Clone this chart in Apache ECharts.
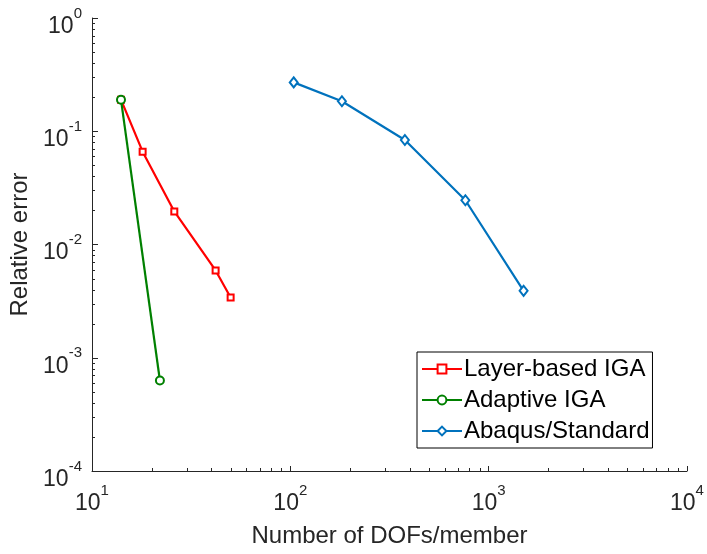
<!DOCTYPE html>
<html>
<head>
<meta charset="utf-8">
<script src="https://cdn.jsdelivr.net/npm/echarts@6/dist/echarts.min.js"></script>
<style>
  html, body { margin: 0; padding: 0; background: #fff; }
  #chart { width: 707px; height: 554px; }
</style>
</head>
<body>
<div id="chart"></div>
<script>
// Convergence of relative error versus degrees of freedom per member
const layerDofs = [14, 18, 26, 42, 50];
const layerErr = [0.19, 0.066, 0.0196, 0.0059, 0.0034];

const adaptiveDofs = [14, 22];
const adaptiveErr = [0.19, 0.00063];

const abaqusDofs = [104, 182, 378, 763, 1500];
const abaqusErr = [0.27, 0.184, 0.0837, 0.0246, 0.0039];

const xDecades = [1, 2, 3, 4];      // 10^1 .. 10^4
const yDecades = [-4, -3, -2, -1, 0]; // 10^-4 .. 10^0

const FONT = 'Liberation Sans, Arial, Helvetica, sans-serif';
const AXIS_COLOR = '#262626';

const zip = (xs, ys) => xs.map((x, i) => [x, ys[i]]);

// minor tick positions (2..9 within each decade)
function minorValues(decades) {
  const out = [];
  for (let i = 0; i < decades.length - 1; i++) {
    for (let m = 2; m <= 9; m++) out.push(m * Math.pow(10, decades[i]));
  }
  return out;
}
const xMinor = minorValues(xDecades);
const yMinor = minorValues(yDecades);
const xMin = Math.pow(10, xDecades[0]), xMax = Math.pow(10, xDecades[xDecades.length - 1]);
const yMin = Math.pow(10, yDecades[0]), yMax = Math.pow(10, yDecades[yDecades.length - 1]);

function powLabel(v) {
  const e = Math.round(Math.log10(v));
  return '{b|10}{s|' + e + '}';
}
const richLabel = {
  b: { fontSize: 23, fontFamily: FONT, color: AXIS_COLOR, lineHeight: 32, verticalAlign: 'bottom' },
  s: { fontSize: 15, fontFamily: FONT, color: AXIS_COLOR, lineHeight: 32, verticalAlign: 'top' }
};

const chart = echarts.init(document.getElementById('chart'), null, { renderer: 'canvas' });

const option = {
  backgroundColor: '#fff',
  animation: false,
  grid: { left: 92, top: 18, width: 595, height: 453, containLabel: false },
  xAxis: {
    type: 'log',
    logBase: 10,
    min: xMin,
    max: xMax,
    name: 'Number of DOFs/member',
    nameLocation: 'middle',
    nameGap: 53,
    nameTextStyle: { fontSize: 24, fontFamily: FONT, color: AXIS_COLOR },
    axisLine: { show: true, lineStyle: { color: AXIS_COLOR, width: 1 } },
    axisTick: { show: true, inside: true, length: 5, lineStyle: { color: AXIS_COLOR } },
    axisLabel: { formatter: powLabel, rich: richLabel, margin: 12 },
    splitLine: { show: false }
  },
  yAxis: {
    type: 'log',
    logBase: 10,
    min: yMin,
    max: yMax,
    name: 'Relative error',
    nameLocation: 'middle',
    nameGap: 54,
    nameRotate: 90,
    nameTextStyle: { fontSize: 24, fontFamily: FONT, color: AXIS_COLOR },
    axisLine: { show: true, lineStyle: { color: AXIS_COLOR, width: 1 } },
    axisTick: { show: true, inside: true, length: 6, lineStyle: { color: AXIS_COLOR } },
    axisLabel: { formatter: powLabel, rich: richLabel, margin: 10, padding: [8, 0, 0, 0] },
    splitLine: { show: false }
  },
  legend: {
    data: ['Layer-based IGA', 'Adaptive IGA', 'Abaqus/Standard'],
    orient: 'vertical',
    left: 417,
    top: 352,
    backgroundColor: '#fff',
    borderColor: '#000',
    borderWidth: 1,
    borderRadius: 0,
    padding: [5, 3, 5, 4],
    itemWidth: 40,
    itemHeight: 11,
    itemGap: 7,
    textStyle: { fontSize: 24, fontFamily: FONT, color: '#000', lineHeight: 24, padding: [0, 0, 0, -3] }
  },
  series: [
    {
      name: 'Layer-based IGA',
      type: 'line',
      data: zip(layerDofs, layerErr),
      symbol: 'emptyRect',
      symbolSize: 6,
      color: '#ff0000',
      lineStyle: { width: 2.2, color: '#ff0000' },
      itemStyle: { color: '#ff0000', borderWidth: 1.2 },
      z: 3
    },
    {
      name: 'Adaptive IGA',
      type: 'line',
      data: zip(adaptiveDofs, adaptiveErr),
      symbol: 'emptyCircle',
      symbolSize: 8,
      color: '#008000',
      lineStyle: { width: 2.2, color: '#008000' },
      itemStyle: { color: '#008000', borderWidth: 2 },
      z: 4
    },
    {
      name: 'Abaqus/Standard',
      type: 'line',
      data: zip(abaqusDofs, abaqusErr),
      symbol: 'emptyDiamond',
      symbolSize: [8, 10],
      color: '#0072bd',
      lineStyle: { width: 2.2, color: '#0072bd' },
      itemStyle: { color: '#0072bd', borderWidth: 2 },
      z: 3
    },
    {
      // minor ticks on the x axis
      type: 'custom',
      silent: true,
      clip: false,
      data: xMinor.map(v => [v, yMin]),
      renderItem: function (params, api) {
        const p = api.coord([api.value(0), api.value(1)]);
        return {
          type: 'line',
          shape: { x1: Math.round(p[0]) + 0.5, y1: p[1], x2: Math.round(p[0]) + 0.5, y2: p[1] - 3 },
          style: { stroke: AXIS_COLOR, lineWidth: 1 }
        };
      },
      z: 1
    },
    {
      // minor ticks on the y axis
      type: 'custom',
      silent: true,
      clip: false,
      data: yMinor.map(v => [xMin, v]),
      renderItem: function (params, api) {
        const p = api.coord([api.value(0), api.value(1)]);
        return {
          type: 'line',
          shape: { x1: p[0], y1: Math.round(p[1]) + 0.5, x2: p[0] + 3, y2: Math.round(p[1]) + 0.5 },
          style: { stroke: AXIS_COLOR, lineWidth: 1 }
        };
      },
      z: 1
    }
  ]
};

chart.setOption(option);
</script>
</body>
</html>
